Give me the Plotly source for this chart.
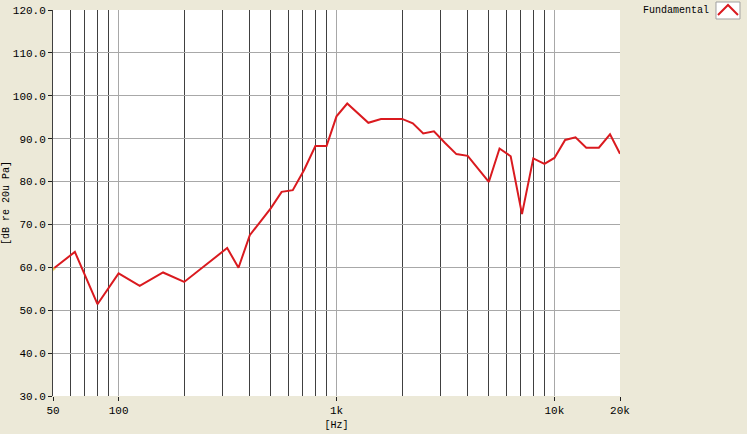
import plotly.graph_objects as go

# Frequencies (Hz) and level (dB re 20uPa)
freq = [50, 63, 80, 100, 125, 160, 200, 315, 355, 400, 500, 560, 630, 710, 800, 900,
        1000, 1120, 1400, 1600, 2000, 2240, 2500, 2800, 3150, 3550, 4000, 5000, 5600,
        6300, 7100, 8000, 9000, 10000, 11200, 12500, 14000, 16000, 18000, 20000]
level = [59.6, 63.6, 51.4, 58.6, 55.7, 58.8, 56.6, 64.5, 59.9, 67.5, 73.8, 77.6, 78.0, 82.7, 88.3, 88.3,
         95.2, 98.2, 93.7, 94.6, 94.6, 93.6, 91.2, 91.7, 89.0, 86.4, 86.0, 79.9, 87.7,
         85.9, 72.4, 85.4, 84.1, 85.5, 89.7, 90.3, 87.9, 87.9, 91.0, 86.5]

x_tickvals = [50, 100, 1000, 10000, 20000]
x_ticktext = ["50", "100", "1k", "10k", "20k"]
minor_vals = [60, 70, 80, 90, 200, 300, 400, 500, 600, 700, 800, 900,
              2000, 3000, 4000, 5000, 6000, 7000, 8000, 9000]
y_tickvals = [30, 40, 50, 60, 70, 80, 90, 100, 110, 120]

FONT = "Liberation Mono"
BG = "#ECE9D8"

fig = go.Figure()
fig.add_trace(go.Scatter(
    x=freq, y=level, mode="lines", name="Fundamental",
    line=dict(color="#DA1A1F", width=2), showlegend=False,
))
fig.add_trace(go.Scatter(
    x=freq[:1], y=level[:1], mode="markers", showlegend=False, hoverinfo="skip",
    marker=dict(color="rgba(240,220,90,0.75)", size=6, symbol="triangle-right"),
))

fig.update_layout(
    width=747, height=434,
    margin=dict(l=53, r=127, t=10, b=38, autoexpand=False),
    paper_bgcolor=BG, plot_bgcolor="white",
    font=dict(family=FONT, size=10, color="black"),
    xaxis=dict(
        type="log", range=[1.69897, 4.30103], automargin=False,
        tickvals=x_tickvals, ticktext=x_ticktext,
        ticks="outside", ticklen=4, tickcolor="#202020",
        showgrid=True, gridcolor="#A8A8A8", gridwidth=1,
        minor=dict(tickvals=minor_vals, showgrid=True, gridcolor="#404040", gridwidth=1, ticks=""),
        showline=False, zeroline=False,
        title=dict(text="[Hz]", font=dict(family=FONT, size=10), standoff=4),
        tickfont=dict(family=FONT, size=11),
    ),
    yaxis=dict(
        range=[30, 120], tickvals=y_tickvals, tickformat=".1f", automargin=False,
        ticks="outside", ticklen=4, tickcolor="#202020",
        showgrid=True, gridcolor="#A8A8A8", gridwidth=1,
        showline=True, linecolor="#404040", linewidth=1,
        zeroline=False,
        tickfont=dict(family=FONT, size=11),
    ),
    annotations=[
        dict(text="[dB re 20u Pa]", textangle=-90, xref="paper", yref="paper",
             x=-0.083, y=0.5, xanchor="center", yanchor="middle", showarrow=False,
             font=dict(family=FONT, size=10)),
        dict(text="Fundamental", xref="paper", yref="paper", x=1.1605, y=1.0,
             xanchor="right", yanchor="middle", showarrow=False,
             font=dict(family=FONT, size=10)),
    ],
    shapes=[
        dict(type="rect", xref="paper", yref="paper", x0=1.1693, x1=1.2116, y0=0.9767, y1=1.0207,
             fillcolor="white", line=dict(color="#A0A0A0", width=1)),
        dict(type="path", xref="paper", yref="paper",
             path="M 1.1728 0.9870 L 1.1905 1.0130 L 1.2081 0.9870",
             line=dict(color="#DA1A1F", width=2)),
    ],
)

fig.write_html("out.html", config={"displayModeBar": False},
               post_script="document.body.style.margin='0';document.body.style.padding='0';")
